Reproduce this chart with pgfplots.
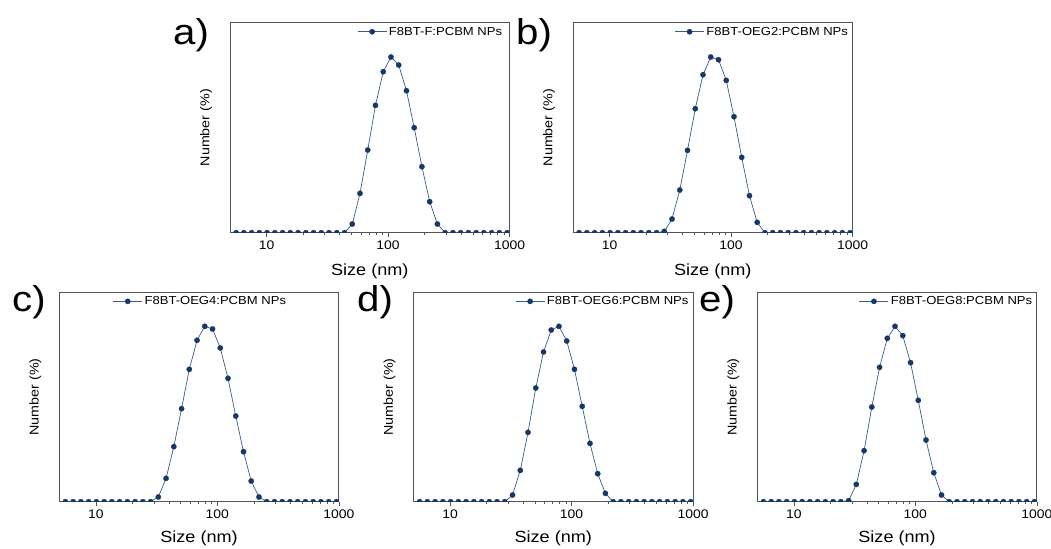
\documentclass[border=0pt]{standalone}
\usepackage{fontspec}
\setmainfont[FakeStretch=1.12]{Liberation Sans}
\usepackage{pgfplots}
\usepackage{pgfplotstable}
\pgfplotsset{compat=1.18}
\definecolor{mk}{RGB}{22,56,104}
\definecolor{ln}{RGB}{60,90,140}
\definecolor{ax}{RGB}{85,85,85}

\pgfplotstableread{
size a b c d e
5.615 0 0 0 0 0
6.503 0 0 0 0 0
7.531 0 0 0 0 0
8.721 0 0 0 0 0
10.10 0 0 0 0 0
11.70 0 0 0 0 0
13.54 0 0 0 0 0
15.69 0 0 0 0 0
18.17 0 0 0 0 0
21.04 0 0 0 0 0
24.36 0 0 0 0 0
28.21 0 4 0 0 3
32.67 0 41 14 20 52
37.84 0 128 70 94 153
43.82 0 247 165 208 284
50.75 26 372 279 341 403
58.77 118 474 397 449 490
68.06 248 527 484 515 526
78.82 382 519 526 526 498
91.28 483 457 518 482 417
105.7 527 348 461 397 304
122.4 503 226 370 286 185
141.8 426 111 257 175 87
164.2 315 31 150 84 20
190.1 198 0 62 25 0
220.2 93 0 14 0 0
255.0 26 0 0 0 0
295.3 0 0 0 0 0
342.0 0 0 0 0 0
396.1 0 0 0 0 0
458.7 0 0 0 0 0
531.2 0 0 0 0 0
615.1 0 0 0 0 0
712.4 0 0 0 0 0
825.0 0 0 0 0 0
955.4 0 0 0 0 0
}\dlsdata

\pgfplotsset{
    scale only axis, width=279.5bp,
    axis line style={ax, line width=0.8bp},
    ytick=\empty,
    xtick pos=lower, tick align=outside,
    major tick length=4bp, minor tick length=2.5bp,
    every tick/.style={ax, line width=0.6bp},
    /pgf/number format/assume math mode=true,
}
\pgfplotsset{
    xticklabel style={font=\fontsize{12.5}{13}\selectfont, inner sep=0bp, yshift=-4bp},
    xlabel style={font=\fontsize{16.2}{18}\selectfont, anchor=base},
    ylabel style={font=\fontsize{12.8}{14}\selectfont, at={(axis description cs:-0.086,0.5)}, anchor=center},
    clip marker paths=true,
    legend style={draw=none, fill=none, font=\fontsize{11.7}{12}\selectfont, inner sep=1bp},
    legend cell align=left,
    legend image code/.code={\draw[mark repeat=2,mark phase=2,#1] plot coordinates {(0bp,0bp) (14.5bp,0bp) (29bp,0bp)};},
}

\begin{document}
\begin{tikzpicture}[x=1bp,y=1bp]
\useasboundingbox (0,0) rectangle (1051,-549);

% a
\begin{axis}[at={(230bp,-232.7bp)}, anchor=south west, height=210bp,
  xmode=log, xmin=5, xmax=1000, ymin=0, ymax=630,
  xtick={10,100,1000}, xticklabels={10,100,1000},
  xlabel={Size (nm)}, ylabel={Number (\%)},
  xlabel style={at={(axis description cs:0.5,-0.205)}},
  legend style={at={(0.985,0.995)}, anchor=north east}]
\addplot[color=ln, line width=0.7bp, mark=*, mark size=2.7bp, mark options={fill=mk, draw=mk, line width=0.2bp}] table[x=size,y=a] {\dlsdata};
\addlegendentry{F8BT-F:PCBM NPs}
\end{axis}
% b
\begin{axis}[at={(573bp,-232.7bp)}, anchor=south west, height=210bp,
  xmode=log, xmin=5, xmax=1000, ymin=0, ymax=630,
  xtick={10,100,1000}, xticklabels={10,100,1000},
  xlabel={Size (nm)}, ylabel={Number (\%)},
  xlabel style={at={(axis description cs:0.5,-0.205)}},
  legend style={at={(0.995,0.995)}, anchor=north east}]
\addplot[color=ln, line width=0.7bp, mark=*, mark size=2.7bp, mark options={fill=mk, draw=mk, line width=0.2bp}] table[x=size,y=b] {\dlsdata};
\addlegendentry{F8BT-OEG2:PCBM NPs}
\end{axis}
% c
\begin{axis}[at={(59.3bp,-501.7bp)}, anchor=south west, height=209.4bp,
  xmode=log, xmin=5, xmax=1000, ymin=0, ymax=628,
  xtick={10,100,1000}, xticklabels={10,100,1000},
  xlabel={Size (nm)}, ylabel={Number (\%)},
  xlabel style={at={(axis description cs:0.5,-0.195)}},
  legend style={at={(0.505,0.995)}, anchor=north}]
\addplot[color=ln, line width=0.7bp, mark=*, mark size=2.7bp, mark options={fill=mk, draw=mk, line width=0.2bp}] table[x=size,y=c] {\dlsdata};
\addlegendentry{F8BT-OEG4:PCBM NPs}
\end{axis}
% d
\begin{axis}[at={(413.5bp,-501.7bp)}, anchor=south west, height=209.4bp,
  xmode=log, xmin=5, xmax=1000, ymin=0, ymax=628,
  xtick={10,100,1000}, xticklabels={10,100,1000},
  xlabel={Size (nm)}, ylabel={Number (\%)},
  xlabel style={at={(axis description cs:0.5,-0.195)}},
  legend style={at={(0.995,0.995)}, anchor=north east}]
\addplot[color=ln, line width=0.7bp, mark=*, mark size=2.7bp, mark options={fill=mk, draw=mk, line width=0.2bp}] table[x=size,y=d] {\dlsdata};
\addlegendentry{F8BT-OEG6:PCBM NPs}
\end{axis}
% e
\begin{axis}[at={(757.3bp,-501.7bp)}, anchor=south west, height=209.4bp,
  xmode=log, xmin=5, xmax=1000, ymin=0, ymax=628,
  xtick={10,100,1000}, xticklabels={10,100,1000},
  xlabel={Size (nm)}, ylabel={Number (\%)},
  xlabel style={at={(axis description cs:0.5,-0.195)}},
  legend style={at={(0.995,0.995)}, anchor=north east}]
\addplot[color=ln, line width=0.7bp, mark=*, mark size=2.7bp, mark options={fill=mk, draw=mk, line width=0.2bp}] table[x=size,y=e] {\dlsdata};
\addlegendentry{F8BT-OEG8:PCBM NPs}
\end{axis}

\begin{scope}[every node/.style={anchor=base west, inner sep=0pt, font=\fontsize{36}{36}\selectfont}]
\node at (173,-45) {a)};
\node at (516,-45) {b)};
\node at (12,-312) {c)};
\node at (357,-312) {d)};
\node at (699,-312) {e)};
\end{scope}
\end{tikzpicture}
\end{document}
